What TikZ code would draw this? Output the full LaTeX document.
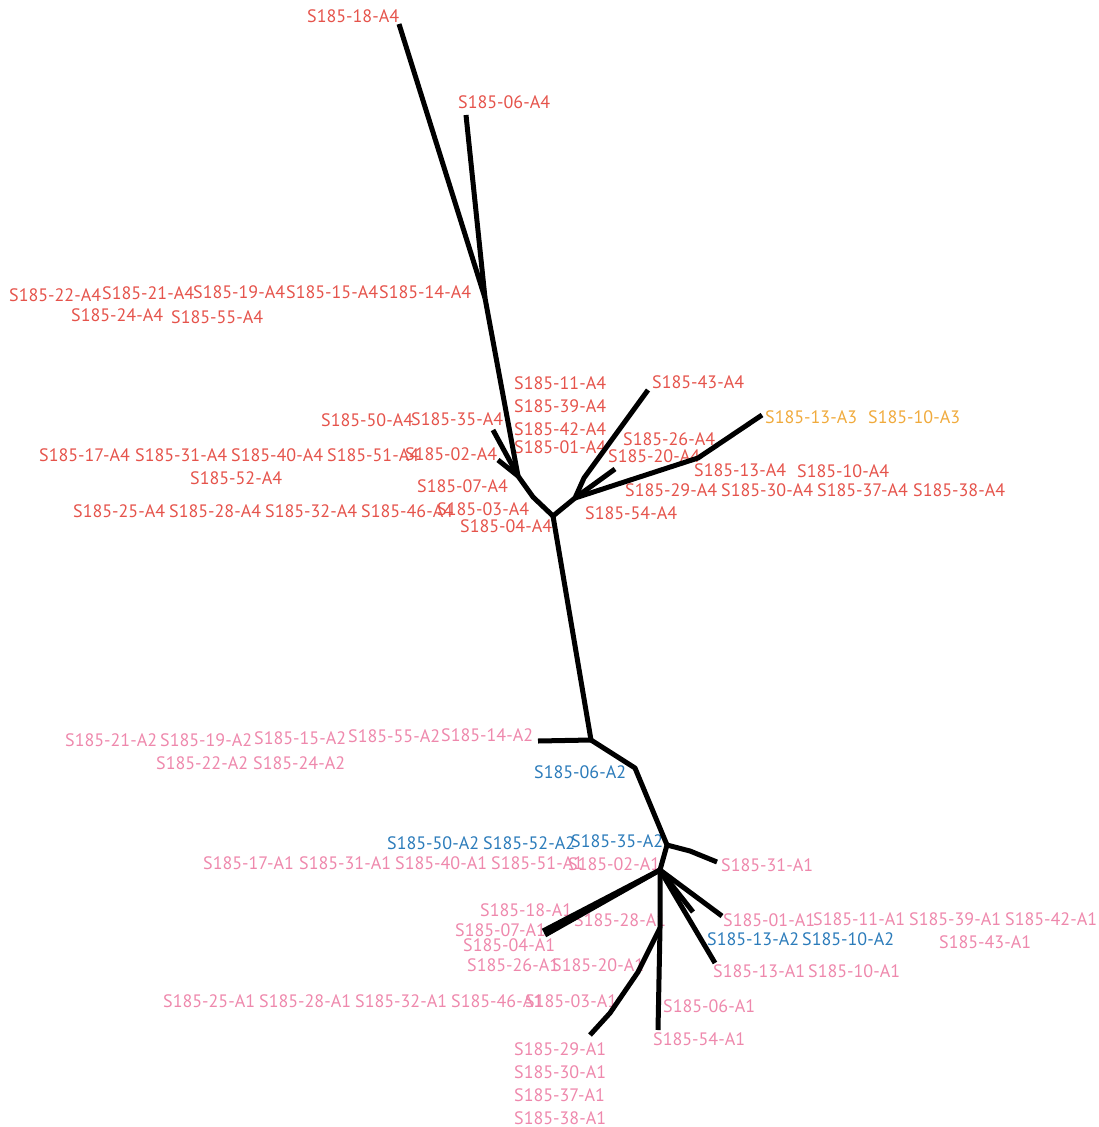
\documentclass[tikz,border=0pt]{standalone}
\usepackage{fontspec}
\setmainfont{PT Sans}
\definecolor{lred}{HTML}{E5534B}
\definecolor{lpink}{HTML}{EE88AC}
\definecolor{lblue}{HTML}{2B7BBA}
\definecolor{lorange}{HTML}{F0AA3C}
\tikzset{
  lab/.style={anchor=west,inner sep=0pt,font=\fontsize{18}{18}\selectfont},
  rl/.style={lab,text=lred},
  pl/.style={lab,text=lpink},
  bl/.style={lab,text=lblue},
  ol/.style={lab,text=lorange},
  edge/.style={line width=5pt,line join=round,line cap=butt,black}
}
\begin{document}
\begin{tikzpicture}[x=1pt,y=-1pt]
\useasboundingbox (0,0) rectangle (1099,1127);
% ---- A4 labels (red)
\node[rl] (l18a4) at (307,16) {S185-18-A4};
\node[rl] (l06a4) at (458,102) {S185-06-A4};
\node[rl] (l22a4) at (9,295) {S185-22-A4};
\node[rl] (l21a4) at (102,293) {S185-21-A4};
\node[rl] (l19a4) at (193,292) {S185-19-A4};
\node[rl] (l15a4) at (286,292) {S185-15-A4};
\node[rl] (l14a4) at (379,292) {S185-14-A4};
\node[rl] (l24a4) at (71,315) {S185-24-A4};
\node[rl] (l55a4) at (171,317) {S185-55-A4};
\node[rl] (l11a4) at (514,383) {S185-11-A4};
\node[rl] (l39a4) at (514,406) {S185-39-A4};
\node[rl] (l42a4) at (514,429) {S185-42-A4};
\node[rl] (l01a4) at (514,447) {S185-01-A4};
\node[rl] (l43a4) at (652,382) {S185-43-A4};
\node[rl] (l50a4) at (321,420) {S185-50-A4};
\node[rl] (l35a4) at (411,419) {S185-35-A4};
\node[rl] (l26a4) at (623,439) {S185-26-A4};
\node[rl] (l20a4) at (608,456) {S185-20-A4};
\node[rl] (l17a4) at (39,455) {S185-17-A4};
\node[rl] (l31a4) at (135,455) {S185-31-A4};
\node[rl] (l40a4) at (231,455) {S185-40-A4};
\node[rl] (l51a4) at (327,455) {S185-51-A4};
\node[rl] (l02a4) at (405,454) {S185-02-A4};
\node[rl] (l52a4) at (190,478) {S185-52-A4};
\node[rl] (l13a4) at (694,470) {S185-13-A4};
\node[rl] (l10a4) at (797,471) {S185-10-A4};
\node[rl] (l07a4) at (417,486) {S185-07-A4};
\node[rl] (l29a4) at (625,490) {S185-29-A4};
\node[rl] (l30a4) at (721,490) {S185-30-A4};
\node[rl] (l37a4) at (817,490) {S185-37-A4};
\node[rl] (l38a4) at (913,490) {S185-38-A4};
\node[rl] (l25a4) at (73,511) {S185-25-A4};
\node[rl] (l28a4) at (169,511) {S185-28-A4};
\node[rl] (l32a4) at (265,511) {S185-32-A4};
\node[rl] (l46a4) at (361,511) {S185-46-A4};
\node[rl] (l03a4) at (437,509) {S185-03-A4};
\node[rl] (l04a4) at (460,526) {S185-04-A4};
\node[rl] (l54a4) at (585,513) {S185-54-A4};
% ---- A3 labels (orange)
\node[ol] (l13a3) at (765,417) {S185-13-A3};
\node[ol] (l10a3) at (868,417) {S185-10-A3};
% ---- A2 labels
\node[pl] (l21a2) at (65,740) {S185-21-A2};
\node[pl] (l19a2) at (160,740) {S185-19-A2};
\node[pl] (l15a2) at (254,738) {S185-15-A2};
\node[pl] (l55a2) at (348,736) {S185-55-A2};
\node[pl] (l14a2) at (441,735) {S185-14-A2};
\node[pl] (l22a2) at (156,763) {S185-22-A2};
\node[pl] (l24a2) at (253,763) {S185-24-A2};
\node[bl] (l06a2) at (534,772) {S185-06-A2};
\node[bl] (l50a2) at (387,843) {S185-50-A2};
\node[bl] (l52a2) at (483,843) {S185-52-A2};
\node[bl] (l35a2) at (571,841) {S185-35-A2};
\node[bl] (l13a2) at (707,939) {S185-13-A2};
\node[bl] (l10a2) at (802,939) {S185-10-A2};
% ---- A1 labels (pink)
\node[pl] (l17a1) at (203,863) {S185-17-A1};
\node[pl] (l31a1) at (299,863) {S185-31-A1};
\node[pl] (l40a1) at (395,863) {S185-40-A1};
\node[pl] (l51a1) at (491,863) {S185-51-A1};
\node[pl] (l02a1) at (568,864) {S185-02-A1};
\node[pl] (l31a1r) at (721,865) {S185-31-A1};
\node[pl] (l18a1) at (480,910) {S185-18-A1};
\node[pl] (l28a1r) at (574,920) {S185-28-A1};
\node[pl] (l07a1) at (455,930) {S185-07-A1};
\node[pl] (l04a1) at (463,945) {S185-04-A1};
\node[pl] (l26a1) at (467,965) {S185-26-A1};
\node[pl] (l20a1) at (552,965) {S185-20-A1};
\node[pl] (l01a1) at (723,920) {S185-01-A1};
\node[pl] (l11a1) at (813,919) {S185-11-A1};
\node[pl] (l39a1) at (909,919) {S185-39-A1};
\node[pl] (l42a1) at (1005,919) {S185-42-A1};
\node[pl] (l43a1) at (939,942) {S185-43-A1};
\node[pl] (l13a1) at (713,971) {S185-13-A1};
\node[pl] (l10a1) at (808,971) {S185-10-A1};
\node[pl] (l25a1) at (163,1001) {S185-25-A1};
\node[pl] (l28a1) at (259,1001) {S185-28-A1};
\node[pl] (l32a1) at (355,1001) {S185-32-A1};
\node[pl] (l46a1) at (451,1001) {S185-46-A1};
\node[pl] (l03a1) at (525,1001) {S185-03-A1};
\node[pl] (l06a1) at (663,1006) {S185-06-A1};
\node[pl] (l54a1) at (653,1039) {S185-54-A1};
\node[pl] (l29a1) at (514,1049) {S185-29-A1};
\node[pl] (l30a1) at (514,1072) {S185-30-A1};
\node[pl] (l37a1) at (514,1095) {S185-37-A1};
\node[pl] (l38a1) at (514,1118) {S185-38-A1};
% ---- tree points
\coordinate (t18) at (399,24);
\coordinate (t06) at (466,115);
\coordinate (jA) at (485,298);
\coordinate (jB) at (518,476);
\coordinate (t35) at (493,430);
\coordinate (t02) at (498,460);
\coordinate (jC) at (533,497);
\coordinate (jD) at (553,516);
\coordinate (jE) at (575,498);
\coordinate (k43) at (584,478);
\coordinate (t43) at (648,390);
\coordinate (t20) at (615,469);
\coordinate (kA3) at (698,458);
\coordinate (tA3) at (762,415);
\coordinate (jF) at (591,740);
\coordinate (t14) at (538,741);
\coordinate (jG) at (635,768);
\coordinate (jH) at (667,845);
\coordinate (kR) at (690,851);
\coordinate (tR) at (717,862);
\coordinate (jI) at (660,870);
\coordinate (t18a) at (543,931);
\coordinate (t18b) at (545,935);
\coordinate (t01) at (722,916);
\coordinate (tw) at (693,912);
\coordinate (t13) at (715,963);
\coordinate (jK) at (660,928);
\coordinate (k29a) at (638,972);
\coordinate (k29b) at (610,1013);
\coordinate (t29) at (590,1035);
\coordinate (t54) at (658,1030);
% ---- edges
\draw[edge] (t18) -- (jA);
\draw[edge] (t06) -- (jA);
\draw[edge] (jA) -- (jB);
\draw[edge] (t35) -- (jB);
\draw[edge] (t02) -- (jB);
\draw[edge] (jB) -- (jC) -- (jD);
\draw[edge] (jD) -- (jE);
\draw[edge] (t43) -- (k43) -- (jE);
\draw[edge] (t20) -- (jE);
\draw[edge] (tA3) -- (kA3) -- (jE);
\draw[edge] (jD) -- (jF);
\draw[edge] (t14) -- (jF);
\draw[edge] (jF) -- (jG) -- (jH);
\draw[edge] (jH) -- (kR) -- (tR);
\draw[edge] (jH) -- (jI);
\draw[edge] (jI) -- (t18a);
\draw[edge] (jI) -- (t18b);
\draw[edge] (jI) -- (t01);
\draw[edge] (jI) -- (tw);
\draw[edge] (jI) -- (t13);
\draw[edge] (jI) -- (jK) -- (t54);
\draw[edge] (jK) -- (k29a) -- (k29b) -- (t29);
\end{tikzpicture}
\end{document}
